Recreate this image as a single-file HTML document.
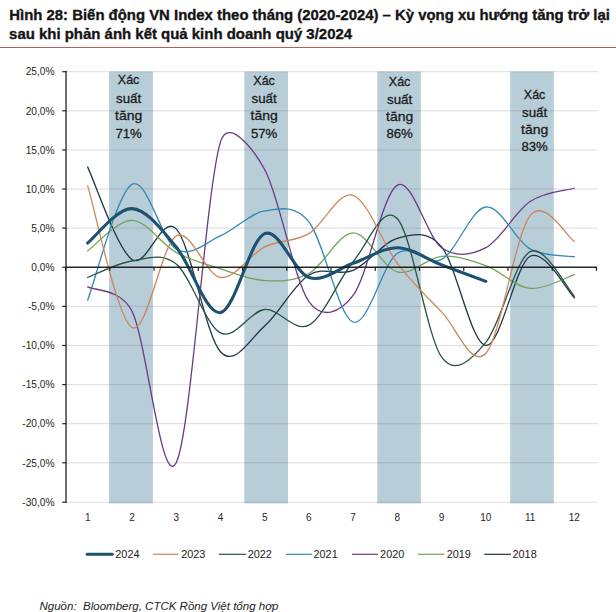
<!DOCTYPE html>
<html><head><meta charset="utf-8"><title>Hình 28</title>
<style>html,body{margin:0;padding:0;background:#fff;}body{width:616px;height:612px;overflow:hidden;}svg{display:block;}text{font-family:'Liberation Sans', Arial, sans-serif;}</style>
</head><body>
<svg width="616" height="612" viewBox="0 0 616 612">
<rect width="616" height="612" fill="#ffffff"/>
<text x="9.3" y="19.7" font-size="14.9" font-weight="bold" fill="#141414" stroke="#141414" stroke-width="0.35" textLength="600.6" lengthAdjust="spacingAndGlyphs">Hình 28: Biến động VN Index theo tháng (2020-2024) – Kỳ vọng xu hướng tăng trở lại</text>
<text x="9.1" y="38.7" font-size="14.9" font-weight="bold" fill="#141414" stroke="#141414" stroke-width="0.35" textLength="343" lengthAdjust="spacingAndGlyphs">sau khi phản ánh kết quả kinh doanh quý 3/2024</text>
<rect x="0" y="47" width="616" height="1" fill="#b95c5a"/>
<rect x="109.1" y="71.5" width="43.8" height="431.9" fill="#b7cdd8"/>
<rect x="244.3" y="71.5" width="43.7" height="431.9" fill="#b7cdd8"/>
<rect x="377.3" y="71.5" width="43.5" height="431.9" fill="#b7cdd8"/>
<rect x="510.2" y="71.5" width="43.6" height="431.9" fill="#b7cdd8"/>
<rect x="66.0" y="71.15" width="531.5" height="1.1" fill="rgba(110,110,110,0.22)"/>
<rect x="66.0" y="110.26" width="531.5" height="1.1" fill="rgba(110,110,110,0.22)"/>
<rect x="66.0" y="149.37" width="531.5" height="1.1" fill="rgba(110,110,110,0.22)"/>
<rect x="66.0" y="188.48" width="531.5" height="1.1" fill="rgba(110,110,110,0.22)"/>
<rect x="66.0" y="227.59" width="531.5" height="1.1" fill="rgba(110,110,110,0.22)"/>
<rect x="66.0" y="305.81" width="531.5" height="1.1" fill="rgba(110,110,110,0.22)"/>
<rect x="66.0" y="344.92" width="531.5" height="1.1" fill="rgba(110,110,110,0.22)"/>
<rect x="66.0" y="384.03" width="531.5" height="1.1" fill="rgba(110,110,110,0.22)"/>
<rect x="66.0" y="423.14" width="531.5" height="1.1" fill="rgba(110,110,110,0.22)"/>
<rect x="66.0" y="462.25" width="531.5" height="1.1" fill="rgba(110,110,110,0.22)"/>
<rect x="66.0" y="501.65" width="531.5" height="1.1" fill="rgba(110,110,110,0.22)"/>
<text x="54.6" y="75.40" font-size="10.2" fill="#262626" text-anchor="end">25,0%</text>
<rect x="62.2" y="71.10" width="4" height="1.2" fill="#262626"/>
<text x="54.6" y="114.51" font-size="10.2" fill="#262626" text-anchor="end">20,0%</text>
<rect x="62.2" y="110.21" width="4" height="1.2" fill="#262626"/>
<text x="54.6" y="153.62" font-size="10.2" fill="#262626" text-anchor="end">15,0%</text>
<rect x="62.2" y="149.32" width="4" height="1.2" fill="#262626"/>
<text x="54.6" y="192.73" font-size="10.2" fill="#262626" text-anchor="end">10,0%</text>
<rect x="62.2" y="188.43" width="4" height="1.2" fill="#262626"/>
<text x="54.6" y="231.84" font-size="10.2" fill="#262626" text-anchor="end">5,0%</text>
<rect x="62.2" y="227.54" width="4" height="1.2" fill="#262626"/>
<text x="54.6" y="270.95" font-size="10.2" fill="#262626" text-anchor="end">0,0%</text>
<rect x="62.2" y="266.65" width="4" height="1.2" fill="#262626"/>
<text x="54.6" y="310.06" font-size="10.2" fill="#262626" text-anchor="end">-5,0%</text>
<rect x="62.2" y="305.76" width="4" height="1.2" fill="#262626"/>
<text x="54.6" y="349.17" font-size="10.2" fill="#262626" text-anchor="end">-10,0%</text>
<rect x="62.2" y="344.87" width="4" height="1.2" fill="#262626"/>
<text x="54.6" y="388.28" font-size="10.2" fill="#262626" text-anchor="end">-15,0%</text>
<rect x="62.2" y="383.98" width="4" height="1.2" fill="#262626"/>
<text x="54.6" y="427.39" font-size="10.2" fill="#262626" text-anchor="end">-20,0%</text>
<rect x="62.2" y="423.09" width="4" height="1.2" fill="#262626"/>
<text x="54.6" y="466.50" font-size="10.2" fill="#262626" text-anchor="end">-25,0%</text>
<rect x="62.2" y="462.20" width="4" height="1.2" fill="#262626"/>
<text x="54.6" y="505.90" font-size="10.2" fill="#262626" text-anchor="end">-30,0%</text>
<rect x="62.2" y="501.60" width="4" height="1.2" fill="#262626"/>
<text x="117.8" y="84.40" font-size="12.9" fill="#1c1c1c" stroke="#1c1c1c" stroke-width="0.3" textLength="21.6" lengthAdjust="spacingAndGlyphs">Xác</text>
<text x="116.0" y="102.60" font-size="12.9" fill="#1c1c1c" stroke="#1c1c1c" stroke-width="0.3" textLength="25.2" lengthAdjust="spacingAndGlyphs">suất</text>
<text x="115.0" y="120.30" font-size="12.9" fill="#1c1c1c" stroke="#1c1c1c" stroke-width="0.3" textLength="27.2" lengthAdjust="spacingAndGlyphs">tăng</text>
<text x="115.4" y="137.50" font-size="12.9" fill="#1c1c1c" stroke="#1c1c1c" stroke-width="0.3" textLength="26.4" lengthAdjust="spacingAndGlyphs">71%</text>
<text x="253.3" y="84.70" font-size="12.9" fill="#1c1c1c" stroke="#1c1c1c" stroke-width="0.3" textLength="21.6" lengthAdjust="spacingAndGlyphs">Xác</text>
<text x="251.5" y="102.60" font-size="12.9" fill="#1c1c1c" stroke="#1c1c1c" stroke-width="0.3" textLength="25.2" lengthAdjust="spacingAndGlyphs">suất</text>
<text x="250.5" y="120.20" font-size="12.9" fill="#1c1c1c" stroke="#1c1c1c" stroke-width="0.3" textLength="27.2" lengthAdjust="spacingAndGlyphs">tăng</text>
<text x="250.9" y="137.60" font-size="12.9" fill="#1c1c1c" stroke="#1c1c1c" stroke-width="0.3" textLength="26.4" lengthAdjust="spacingAndGlyphs">57%</text>
<text x="388.8" y="85.60" font-size="12.9" fill="#1c1c1c" stroke="#1c1c1c" stroke-width="0.3" textLength="21.6" lengthAdjust="spacingAndGlyphs">Xác</text>
<text x="387.0" y="103.60" font-size="12.9" fill="#1c1c1c" stroke="#1c1c1c" stroke-width="0.3" textLength="25.2" lengthAdjust="spacingAndGlyphs">suất</text>
<text x="386.0" y="121.30" font-size="12.9" fill="#1c1c1c" stroke="#1c1c1c" stroke-width="0.3" textLength="27.2" lengthAdjust="spacingAndGlyphs">tăng</text>
<text x="386.4" y="138.40" font-size="12.9" fill="#1c1c1c" stroke="#1c1c1c" stroke-width="0.3" textLength="26.4" lengthAdjust="spacingAndGlyphs">86%</text>
<text x="523.8" y="98.80" font-size="12.9" fill="#1c1c1c" stroke="#1c1c1c" stroke-width="0.3" textLength="21.6" lengthAdjust="spacingAndGlyphs">Xác</text>
<text x="522.0" y="116.60" font-size="12.9" fill="#1c1c1c" stroke="#1c1c1c" stroke-width="0.3" textLength="25.2" lengthAdjust="spacingAndGlyphs">suất</text>
<text x="521.0" y="134.30" font-size="12.9" fill="#1c1c1c" stroke="#1c1c1c" stroke-width="0.3" textLength="27.2" lengthAdjust="spacingAndGlyphs">tăng</text>
<text x="521.4" y="151.40" font-size="12.9" fill="#1c1c1c" stroke="#1c1c1c" stroke-width="0.3" textLength="26.4" lengthAdjust="spacingAndGlyphs">83%</text>
<path d="M87.70,167.13 C95.07,182.51 117.19,249.13 131.94,259.43 C146.69,269.73 161.43,213.54 176.18,228.92 C190.93,244.31 205.67,335.56 220.42,351.73 C235.17,367.89 249.91,338.69 264.66,325.92 C279.41,313.14 294.15,284.33 308.90,275.07 C323.65,265.82 338.39,276.51 353.14,270.38 C367.89,264.25 382.63,242.22 397.38,238.31 C412.13,234.40 427.27,229.54 441.62,246.91 C456.37,264.77 471.11,343.91 485.86,345.47 C500.61,347.03 515.35,264.25 530.10,256.30 C544.85,248.35 566.97,290.85 574.34,297.76" fill="none" stroke="#1e3446" stroke-width="1.30" stroke-linecap="round" stroke-linejoin="round"/>
<path d="M87.70,250.82 C95.07,245.74 117.19,220.06 131.94,220.32 C146.69,220.58 161.43,244.31 176.18,252.39 C190.93,260.47 205.67,264.12 220.42,268.81 C235.17,273.51 249.91,279.77 264.66,280.55 C279.41,281.33 294.15,281.46 308.90,273.51 C323.65,265.56 338.39,233.09 353.14,232.83 C367.89,232.57 382.63,268.03 397.38,271.94 C412.13,275.85 426.87,257.34 441.62,256.30 C456.37,255.26 471.11,260.34 485.86,265.69 C500.61,271.03 515.35,286.87 530.10,288.37 C544.85,289.87 566.97,276.96 574.34,274.68" fill="none" stroke="#71a35a" stroke-width="1.30" stroke-linecap="round" stroke-linejoin="round"/>
<path d="M87.70,286.81 C95.07,290.85 120.61,288.52 131.94,311.05 C146.69,340.39 161.43,490.96 176.18,462.80 C190.93,434.64 205.67,190.99 220.42,142.10 C227.93,117.19 252.05,146.73 264.66,169.47 C279.41,196.07 294.15,280.68 308.90,301.67 C321.74,319.95 339.63,313.20 353.14,295.41 C367.89,275.98 382.63,193.07 397.38,185.12 C412.13,177.17 426.87,237.27 441.62,247.69 C456.37,258.12 471.11,255.39 485.86,247.69 C500.61,240.00 515.35,211.45 530.10,201.55 C544.85,191.64 566.97,190.46 574.34,188.25" fill="none" stroke="#6a3a82" stroke-width="1.30" stroke-linecap="round" stroke-linejoin="round"/>
<path d="M87.70,300.10 C95.07,280.81 117.19,192.81 131.94,184.34 C146.69,175.86 161.43,240.66 176.18,249.26 C190.93,257.86 205.67,242.35 220.42,235.96 C235.17,229.57 249.91,213.28 264.66,210.93 C279.41,208.59 294.70,204.06 308.90,221.88 C323.65,240.39 338.39,316.79 353.14,322.00 C367.89,327.22 382.63,263.60 397.38,253.17 C412.13,242.74 426.87,267.12 441.62,259.43 C456.37,251.74 471.11,208.78 485.86,207.02 C500.61,205.26 515.35,240.59 530.10,248.87 C544.85,257.15 566.97,255.39 574.34,256.69" fill="none" stroke="#3189b5" stroke-width="1.30" stroke-linecap="round" stroke-linejoin="round"/>
<path d="M87.70,277.42 C95.07,274.68 117.19,263.21 131.94,260.99 C146.69,258.78 161.43,252.13 176.18,264.12 C190.93,276.11 205.67,325.39 220.42,332.95 C235.17,340.52 249.91,310.79 264.66,309.49 C279.41,308.19 294.15,333.09 308.90,325.13 C323.65,317.18 338.39,279.50 353.14,261.77 C367.89,244.04 382.63,202.85 397.38,218.75 C412.13,234.66 426.87,336.61 441.62,357.20 C455.20,376.18 471.11,359.94 485.86,342.34 C500.61,324.74 515.35,259.30 530.10,251.61 C544.85,243.91 566.97,288.76 574.34,296.19" fill="none" stroke="#275442" stroke-width="1.30" stroke-linecap="round" stroke-linejoin="round"/>
<path d="M87.70,185.90 C95.07,209.50 117.19,319.14 131.94,327.48 C146.69,335.82 161.43,244.31 176.18,235.96 C190.93,227.62 205.67,275.59 220.42,277.42 C235.17,279.24 249.91,254.21 264.66,246.91 C279.41,239.61 294.15,242.22 308.90,233.62 C323.65,225.01 338.39,190.33 353.14,195.29 C367.89,200.24 382.63,243.91 397.38,263.34 C412.13,282.76 426.87,296.84 441.62,311.84 C456.37,326.83 471.11,369.33 485.86,353.29 C500.61,337.26 515.35,234.27 530.10,215.62 C544.85,196.98 566.97,237.14 574.34,241.44" fill="none" stroke="#d0845a" stroke-width="1.30" stroke-linecap="round" stroke-linejoin="round"/>
<path d="M87.70,243.00 C95.07,237.27 117.19,207.93 131.94,208.59 C146.69,209.24 161.43,229.57 176.18,246.91 C190.93,264.25 205.67,314.83 220.42,312.62 C235.17,310.40 249.91,239.48 264.66,233.62 C279.41,227.75 294.15,272.46 308.90,277.42 C323.65,282.37 338.39,268.29 353.14,263.34 C367.89,258.39 382.63,247.43 397.38,247.69 C412.13,247.96 426.87,259.30 441.62,264.90 C456.37,270.51 478.49,278.59 485.86,281.33" fill="none" stroke="#1d5170" stroke-width="3.10" stroke-linecap="round" stroke-linejoin="round"/>
<rect x="65.4" y="70.90" width="1.25" height="431.90" fill="#1a1a1a"/>
<rect x="66" y="266.55" width="531.00" height="1.4" fill="#1a1a1a"/>
<rect x="64.98" y="267.25" width="1.2" height="3.6" fill="#1a1a1a"/>
<rect x="109.22" y="267.25" width="1.2" height="3.6" fill="#1a1a1a"/>
<rect x="153.46" y="267.25" width="1.2" height="3.6" fill="#1a1a1a"/>
<rect x="197.70" y="267.25" width="1.2" height="3.6" fill="#1a1a1a"/>
<rect x="241.94" y="267.25" width="1.2" height="3.6" fill="#1a1a1a"/>
<rect x="286.18" y="267.25" width="1.2" height="3.6" fill="#1a1a1a"/>
<rect x="330.42" y="267.25" width="1.2" height="3.6" fill="#1a1a1a"/>
<rect x="374.66" y="267.25" width="1.2" height="3.6" fill="#1a1a1a"/>
<rect x="418.90" y="267.25" width="1.2" height="3.6" fill="#1a1a1a"/>
<rect x="463.14" y="267.25" width="1.2" height="3.6" fill="#1a1a1a"/>
<rect x="507.38" y="267.25" width="1.2" height="3.6" fill="#1a1a1a"/>
<rect x="551.62" y="267.25" width="1.2" height="3.6" fill="#1a1a1a"/>
<rect x="595.86" y="267.25" width="1.2" height="3.6" fill="#1a1a1a"/>
<text x="87.70" y="520.6" font-size="10" fill="#262626" text-anchor="middle">1</text>
<text x="131.94" y="520.6" font-size="10" fill="#262626" text-anchor="middle">2</text>
<text x="176.18" y="520.6" font-size="10" fill="#262626" text-anchor="middle">3</text>
<text x="220.42" y="520.6" font-size="10" fill="#262626" text-anchor="middle">4</text>
<text x="264.66" y="520.6" font-size="10" fill="#262626" text-anchor="middle">5</text>
<text x="308.90" y="520.6" font-size="10" fill="#262626" text-anchor="middle">6</text>
<text x="353.14" y="520.6" font-size="10" fill="#262626" text-anchor="middle">7</text>
<text x="397.38" y="520.6" font-size="10" fill="#262626" text-anchor="middle">8</text>
<text x="441.62" y="520.6" font-size="10" fill="#262626" text-anchor="middle">9</text>
<text x="485.86" y="520.6" font-size="10" fill="#262626" text-anchor="middle">10</text>
<text x="530.10" y="520.6" font-size="10" fill="#262626" text-anchor="middle">11</text>
<text x="574.34" y="520.6" font-size="10" fill="#262626" text-anchor="middle">12</text>
<line x1="87.2" y1="554.3" x2="112.3" y2="554.3" stroke="#1d5170" stroke-width="3" stroke-linecap="round"/>
<text x="115.3" y="557.9" font-size="11" fill="#1c1c1c" textLength="24.2" lengthAdjust="spacingAndGlyphs">2024</text>
<rect x="153.0" y="553.7" width="25.5" height="1.2" fill="#d0845a"/>
<text x="181.2" y="557.9" font-size="11" fill="#1c1c1c" textLength="24.2" lengthAdjust="spacingAndGlyphs">2023</text>
<rect x="218.8" y="553.7" width="27.1" height="1.2" fill="#275442"/>
<text x="247.7" y="557.9" font-size="11" fill="#1c1c1c" textLength="24.2" lengthAdjust="spacingAndGlyphs">2022</text>
<rect x="286.0" y="553.7" width="26.0" height="1.2" fill="#3189b5"/>
<text x="313.5" y="557.9" font-size="11" fill="#1c1c1c" textLength="24.2" lengthAdjust="spacingAndGlyphs">2021</text>
<rect x="352.0" y="553.7" width="26.0" height="1.2" fill="#6a3a82"/>
<text x="380.1" y="557.9" font-size="11" fill="#1c1c1c" textLength="24.2" lengthAdjust="spacingAndGlyphs">2020</text>
<rect x="418.0" y="553.7" width="26.5" height="1.2" fill="#71a35a"/>
<text x="446.7" y="557.9" font-size="11" fill="#1c1c1c" textLength="24.2" lengthAdjust="spacingAndGlyphs">2019</text>
<rect x="484.3" y="553.7" width="26.7" height="1.2" fill="#1e3446"/>
<text x="512.5" y="557.9" font-size="11" fill="#1c1c1c" textLength="24.2" lengthAdjust="spacingAndGlyphs">2018</text>
<text x="39.5" y="609.5" font-size="11.2" font-style="italic" fill="#222" style="white-space:pre" textLength="239" lengthAdjust="spacingAndGlyphs">Nguồn:  Bloomberg, CTCK Rồng Việt tổng hợp</text>
</svg></body></html>
